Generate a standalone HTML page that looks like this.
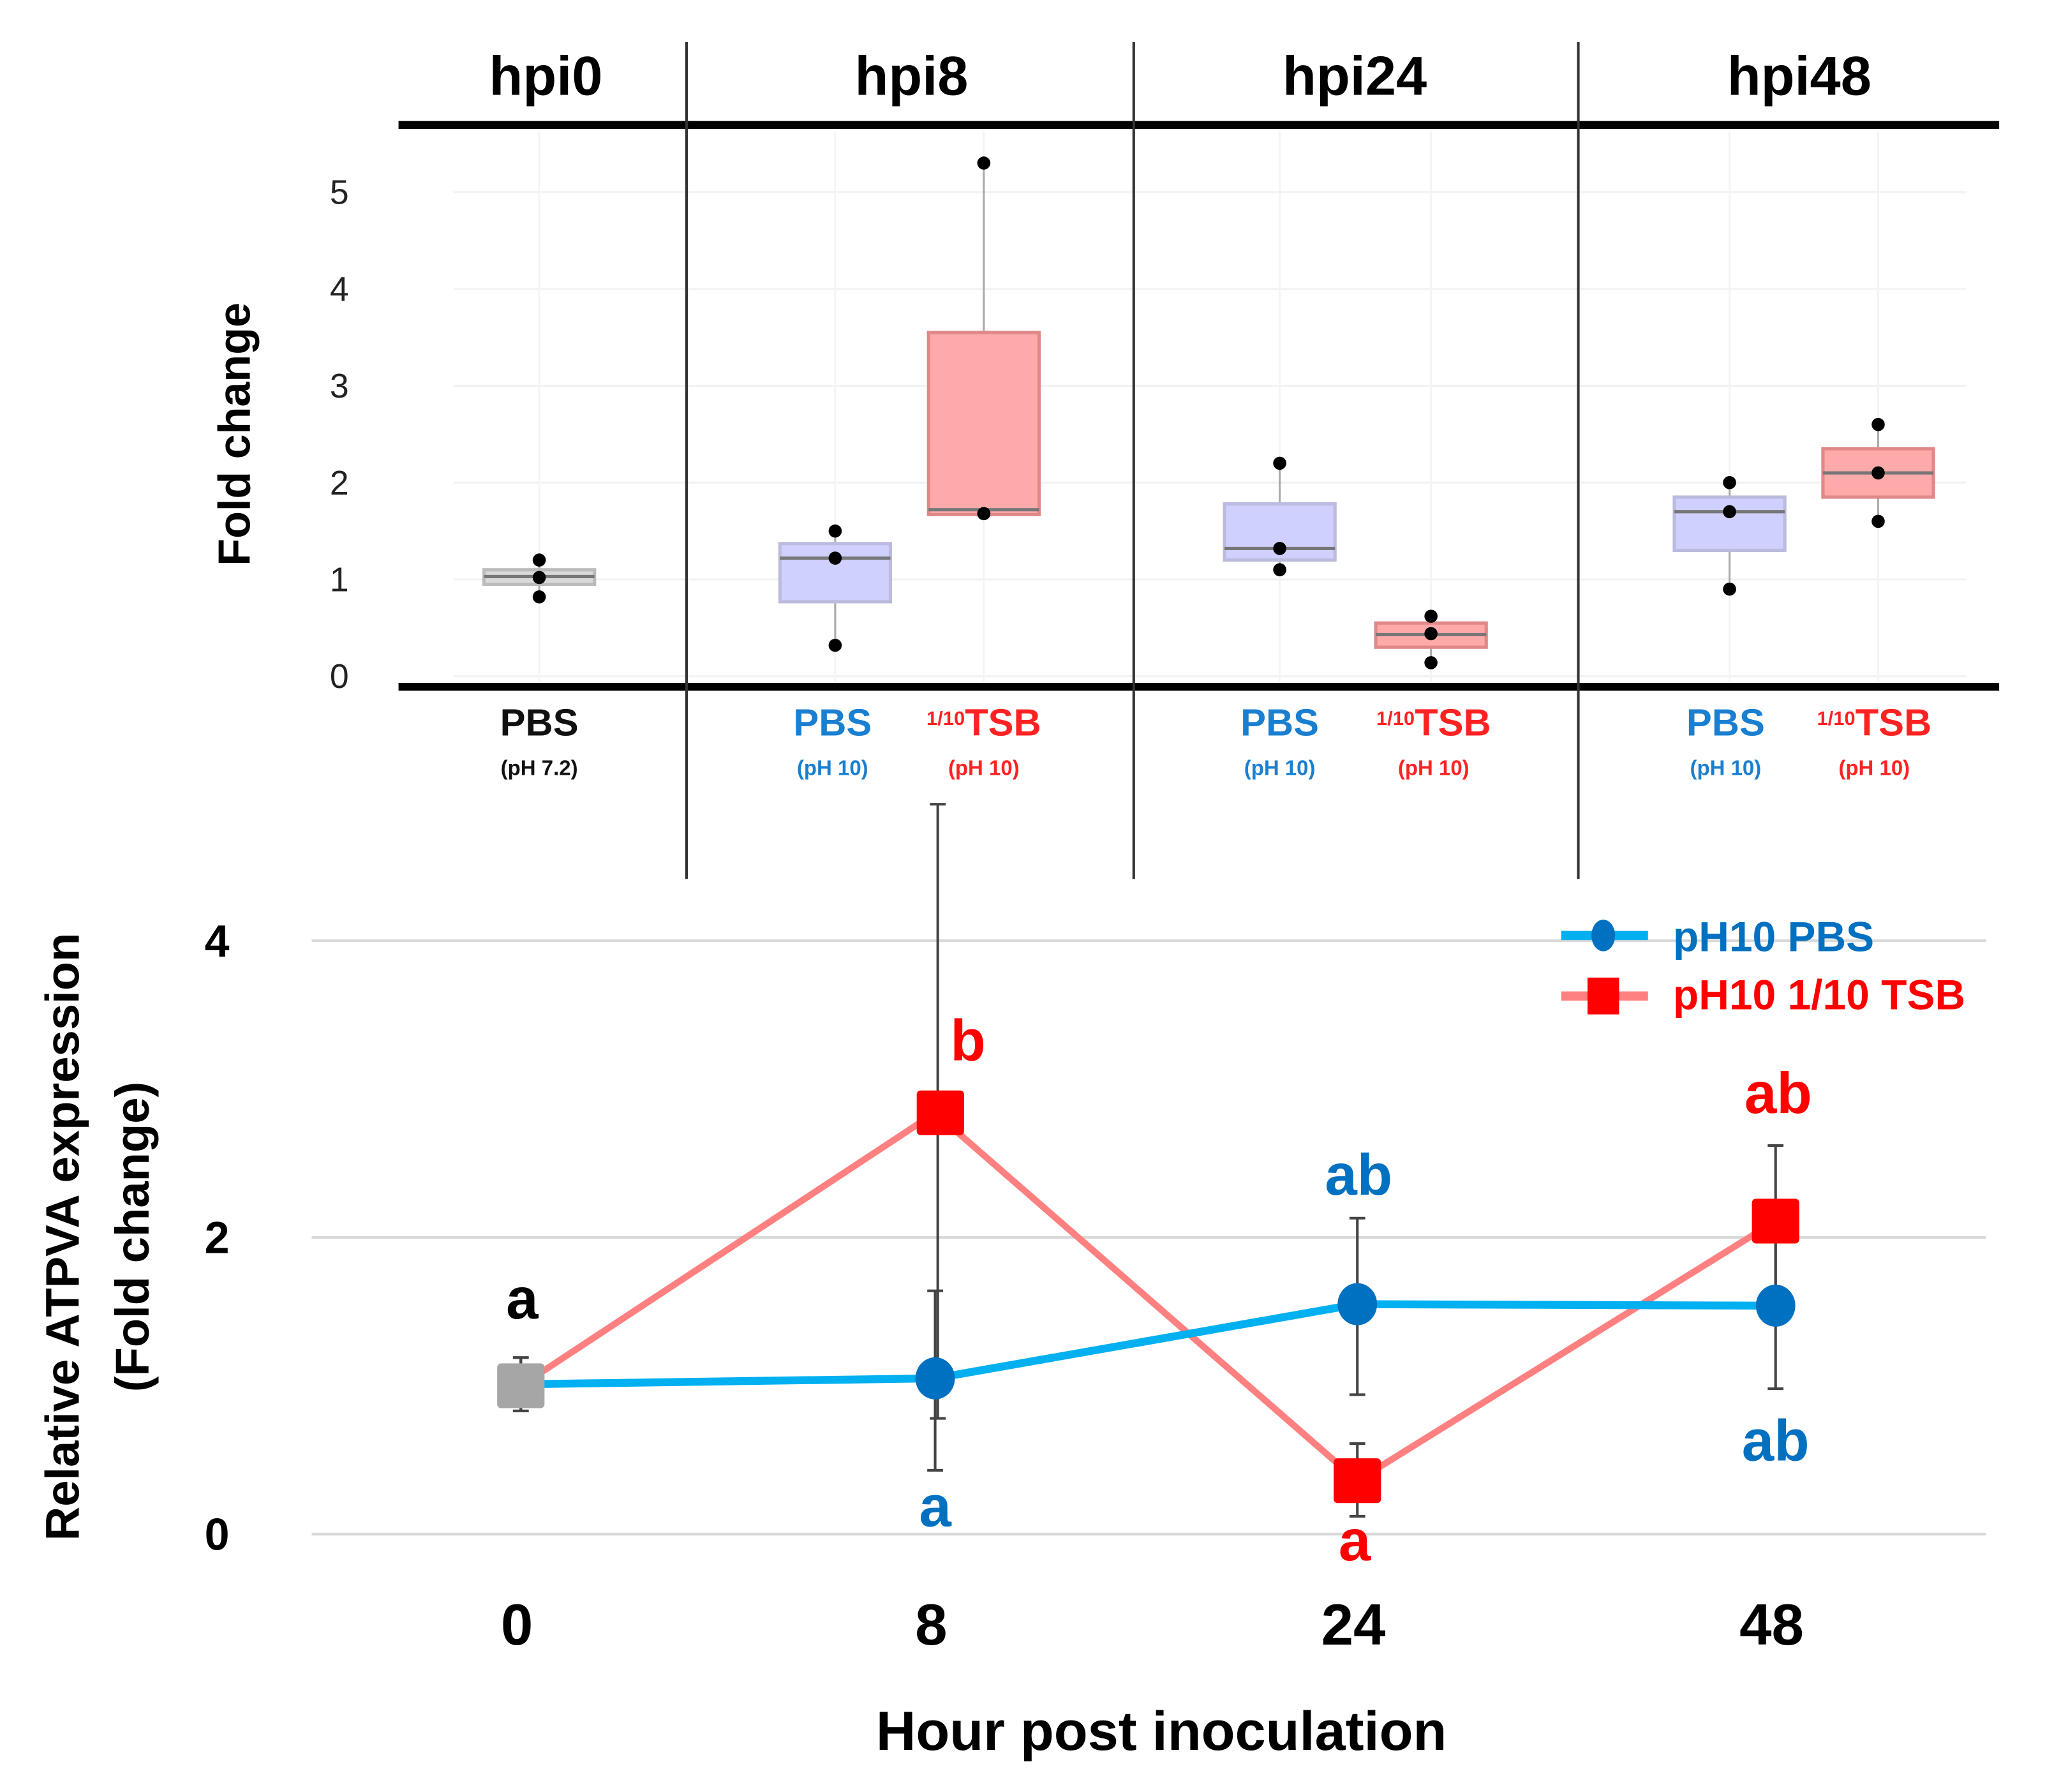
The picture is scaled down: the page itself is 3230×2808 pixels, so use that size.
<!DOCTYPE html>
<html><head><meta charset="utf-8"><style>body{margin:0;background:#fff}svg{display:block}text{font-family:"Liberation Sans",sans-serif}</style></head>
<body>
<svg id="c" width="3230" height="2808" viewBox="0 0 1567 1362" preserveAspectRatio="none" xmlns="http://www.w3.org/2000/svg"></svg>
<script>
// Top panel data
const boxGroups = ['hpi0 PBS','hpi8 PBS','hpi8 TSB','hpi24 PBS','hpi24 TSB','hpi48 PBS','hpi48 TSB'];
const boxQ1 = [0.95,0.77,1.67,1.2,0.3,1.3,1.85];
const boxMed = [1.03,1.22,1.72,1.32,0.43,1.7,2.1];
const boxQ3 = [1.1,1.37,3.55,1.78,0.55,1.85,2.35];
const boxPts = [[1.2,1.02,0.82],[1.5,1.22,0.32],[5.3,1.68,1.68],[2.2,1.32,1.1],[0.62,0.44,0.14],[2.0,1.7,0.9],[2.6,2.1,1.6]];
const topTicks = [0,1,2,3,4,5];
// Bottom panel data
const hours = ['0','8','24','48'];
const pbsVals = [1.01,1.05,1.55,1.54];
const pbsUp = [1.19,1.64,2.13,2.1];
const pbsLo = [0.83,0.43,0.94,0.98];
const tsbVals = [1.0,2.84,0.36,2.11];
const tsbUp = [1.19,4.92,0.61,2.62];
const tsbLo = [0.83,0.78,0.12,1.6];
const botTicks = [0,2,4];

const svg=document.getElementById('c');const NS='http://www.w3.org/2000/svg';
function el(t,a,txt){const e=document.createElementNS(NS,t);for(const k in a)e.setAttribute(k,a[k]);if(txt!=null)e.textContent=txt;svg.appendChild(e);return e;}
const yT=v=>514-v*73.6;
const boxX=[410,635,748,973,1088,1315,1428];
const boxFill=['#d9d9d9','#d0d0ff','#ffaaaa','#d0d0ff','#ffaaaa','#d0d0ff','#ffaaaa'];
const boxStroke=['#bbb','#bbbbdd','#e08888','#bbbbdd','#e08888','#bbbbdd','#e08888'];
topTicks.forEach(v=>{let g=el('line',{x1:345,x2:1495,y1:yT(v),y2:yT(v),stroke:'#f2f2f2','stroke-width':1.5});

let t=el('text',{x:258,y:yT(v)+9,'font-size':26,'text-anchor':'middle',fill:'#222'},v);
});
boxX.forEach(x=>{let g=el('line',{x1:x,x2:x,y1:100,y2:518,stroke:'#f4f4f4','stroke-width':1.5});});
boxGroups.forEach((n,i)=>{const x=boxX[i],p=boxPts[i];const mx=Math.max(...p),mn=Math.min(...p);
let w=el('line',{x1:x,x2:x,y1:yT(mx),y2:yT(mn),stroke:'#aaa','stroke-width':1.5});
let r=el('rect',{x:x-42,y:yT(boxQ3[i]),width:84,height:yT(boxQ1[i])-yT(boxQ3[i]),fill:boxFill[i],stroke:boxStroke[i],'stroke-width':2.5});

let m=el('line',{x1:x-42,x2:x+42,y1:yT(boxMed[i]),y2:yT(boxMed[i]),stroke:'#777','stroke-width':2.5});
p.forEach(v=>{let c=el('circle',{cx:x,cy:yT(v),r:5,fill:'#000'});});});
[[303,1520,95],[303,1520,522]].forEach(a=>{let l=el('line',{x1:a[0],x2:a[1],y1:a[2],y2:a[2],stroke:'#000','stroke-width':6});});
[522,862,1200].forEach(x=>{let l=el('line',{x1:x,x2:x,y1:32,y2:668,stroke:'#333','stroke-width':2});});
[['hpi0',415],['hpi8',693],['hpi24',1030],['hpi48',1368]].forEach(a=>{let t=el('text',{x:a[1],y:72,'font-size':42,'font-weight':'bold','text-anchor':'middle'},a[0]);});
let ft=el('text',{x:0,y:0,'font-size':34,'font-weight':'bold','text-anchor':'middle',transform:'translate(190,330) rotate(-90)'},'Fold change');
const catLab=[[410,'PBS','(pH 7.2)','#111'],[633,'PBS','(pH 10)','#1a7fd0'],[748,'TSB','(pH 10)','#ff2222'],[973,'PBS','(pH 10)','#1a7fd0'],[1090,'TSB','(pH 10)','#ff2222'],[1312,'PBS','(pH 10)','#1a7fd0'],[1425,'TSB','(pH 10)','#ff2222']];
catLab.forEach(c=>{let t=el('text',{x:c[0],y:559,'font-size':29,'font-weight':'bold','text-anchor':'middle',fill:c[3]});
if(c[1]==='TSB'){const s=document.createElementNS(NS,'tspan');s.setAttribute('font-size',15);s.setAttribute('dy',-8);s.textContent='1/10';t.appendChild(s);const s2=document.createElementNS(NS,'tspan');s2.setAttribute('dy',8);s2.textContent='TSB';t.appendChild(s2);}else t.textContent=c[1];

let u=el('text',{x:c[0],y:589,'font-size':16,'font-weight':'bold','text-anchor':'middle',fill:c[3]},c[2]);});
const xB=[396,711,1032,1350];const yB=v=>1166-v*112.75;
botTicks.forEach(v=>{let g=el('line',{x1:237,x2:1510,y1:yB(v),y2:yB(v),stroke:'#d9d9d9','stroke-width':2});
let t=el('text',{x:165,y:yB(v)+12,'font-size':34,'font-weight':'bold','text-anchor':'middle'},v);});
hours.forEach((h,i)=>{let t=el('text',{x:xB[i]-3,y:1250,'font-size':44,'font-weight':'bold','text-anchor':'middle'},h);});
let xt=el('text',{x:883,y:1330,'font-size':42,'font-weight':'bold','text-anchor':'middle'},'Hour post inoculation');
let y1=el('text',{x:0,y:0,'font-size':36,'font-weight':'bold','text-anchor':'middle',transform:'translate(60,940) rotate(-90)'},'Relative ATPVA expression');
let y2=el('text',{x:0,y:0,'font-size':36,'font-weight':'bold','text-anchor':'middle',transform:'translate(113,940) rotate(-90)'},'(Fold change)');
function ebar(x,u,l){let e=el('path',{d:`M${x},${yB(u)}V${yB(l)}M${x-6},${yB(u)}h12M${x-6},${yB(l)}h12`,stroke:'#444','stroke-width':2,fill:'none'});}
hours.forEach((h,i)=>{ebar(xB[i]+(i==1?2:0),tsbUp[i],tsbLo[i]);ebar(xB[i],pbsUp[i],pbsLo[i]);});
let tl=el('polyline',{points:tsbVals.map((v,i)=>xB[i]+','+yB(v)).join(' '),fill:'none',stroke:'#ff8080','stroke-width':5});
let pl=el('polyline',{points:pbsVals.map((v,i)=>xB[i]+','+yB(v)).join(' '),fill:'none',stroke:'#00b0f0','stroke-width':6});
pbsVals.forEach((v,i)=>{if(i==0)return;let c=el('ellipse',{cx:xB[i],cy:yB(v),rx:15,ry:16,fill:'#0070c0'});});
tsbVals.forEach((v,i)=>{let r=el('rect',{x:xB[i]+(i==1?4:0)-18,y:yB(v)-17,width:36,height:34,rx:3,fill:i==0?'#a6a6a6':'#ff0000'});});
[['a',397,1002,'#000'],['b',736,806,'#ff0000'],['ab',1033,908,'#0070c0'],['ab',1352,846,'#ff0000'],['a',711,1160,'#0070c0'],['a',1030,1186,'#ff0000'],['ab',1350,1110,'#0070c0']].forEach(a=>{let t=el('text',{x:a[1],y:a[2],'font-size':44,'font-weight':'bold','text-anchor':'middle',fill:a[3]},a[0]);});
let l1=el('line',{x1:1187,x2:1253,y1:711,y2:711,stroke:'#00b0f0','stroke-width':7});
let l1c=el('ellipse',{cx:1219,cy:711,rx:9,ry:12,fill:'#0070c0'});
let l1t=el('text',{x:1272,y:723,'font-size':32,'font-weight':'bold',fill:'#0070c0'},'pH10 PBS');
let l2=el('line',{x1:1187,x2:1253,y1:757,y2:757,stroke:'#ff8080','stroke-width':7});
let l2r=el('rect',{x:1207,y:743,width:24,height:28,fill:'#ff0000'});
let l2t=el('text',{x:1272,y:767,'font-size':32,'font-weight':'bold',fill:'#ff0000'},'pH10 1/10 TSB');
</script>
</body></html>
